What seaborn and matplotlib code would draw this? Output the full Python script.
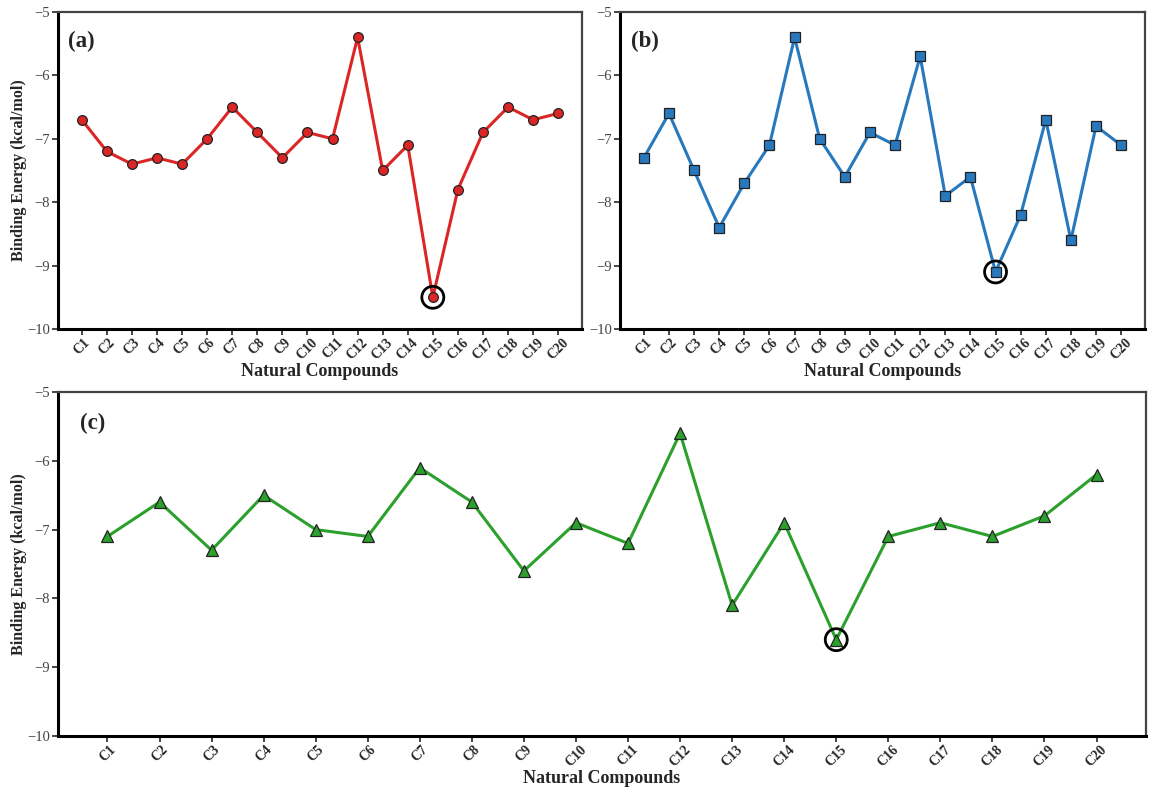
import matplotlib
matplotlib.use("Agg")
import matplotlib.pyplot as plt
import seaborn as sns
import pandas as pd
import numpy as np

compounds = [f"C{i}" for i in range(1, 21)]
energy_a = [-6.7, -7.2, -7.4, -7.3, -7.4, -7.0, -6.5, -6.9, -7.3, -6.9,
            -7.0, -5.4, -7.5, -7.1, -9.5, -7.8, -6.9, -6.5, -6.7, -6.6]
energy_b = [-7.3, -6.6, -7.5, -8.4, -7.7, -7.1, -5.4, -7.0, -7.6, -6.9,
            -7.1, -5.7, -7.9, -7.6, -9.1, -8.2, -6.7, -8.6, -6.8, -7.1]
energy_c = [-7.1, -6.6, -7.3, -6.5, -7.0, -7.1, -6.1, -6.6, -7.6, -6.9,
            -7.2, -5.6, -8.1, -6.9, -8.6, -7.1, -6.9, -7.1, -6.8, -6.2]
highlight = "C15"
yticks = [-10, -9, -8, -7, -6, -5]

sns.set_theme(style="white")
plt.rcParams["font.family"] = ["Liberation Serif", "DejaVu Serif"]

fig = plt.figure(figsize=(11.56, 7.98), dpi=100)
W, H = 1156, 798
def box(l, t, r, b):
    return [l / W, 1 - b / H, (r - l) / W, (b - t) / H]

ax_a = fig.add_axes(box(58, 12, 582, 329))
ax_b = fig.add_axes(box(620, 12, 1145, 329))
ax_c = fig.add_axes(box(58, 392, 1146, 736))

panels = [
    (ax_a, energy_a, "#dc2626", "o", 7, "(a)", True),
    (ax_b, energy_b, "#2878bd", "s", 7, "(b)", False),
    (ax_c, energy_c, "#2ca02c", "^", 8, "(c)", True),
]

for ax, vals, color, marker, ms, label, ylab in panels:
    df = pd.DataFrame({"Compound": compounds, "Energy": vals})
    sns.lineplot(data=df, x="Compound", y="Energy", ax=ax, color=color,
                 linewidth=2.2, marker=marker, markersize=ms,
                 markerfacecolor=color, markeredgecolor="#222222",
                 markeredgewidth=0.9, sort=False)
    hv = df.loc[df["Compound"] == highlight, "Energy"].values[0]
    ax.scatter([highlight], [hv], s=250, facecolors="none",
               edgecolors="black", linewidths=2.0, zorder=5)
    ax.set_ylim(-10, -5)
    ax.set_xlim(-0.95, 19.95)
    ax.set_yticks(yticks)
    ax.set_yticklabels([f"\u2212{abs(v)}" for v in yticks], fontsize=10.5, color="#444444")
    ax.tick_params(axis="y", left=True, length=4, width=1.2, pad=2)
    ax.tick_params(axis="x", bottom=True, length=4, width=1.2, pad=1)
    for t in ax.get_xticklabels():
        t.set_rotation(45)
        t.set_fontweight("bold")
        t.set_fontsize(10)
        t.set_ha("center")
    ax.set_xlabel("Natural Compounds", fontsize=13, fontweight="bold", labelpad=1)
    if ylab:
        ax.set_ylabel("Binding Energy (kcal/mol)", fontsize=11.5, fontweight="bold", labelpad=0)
    else:
        ax.set_ylabel("")
    for s in ["left", "bottom"]:
        ax.spines[s].set_color("black")
        ax.spines[s].set_linewidth(2.2)
    for s in ["top", "right"]:
        ax.spines[s].set_color("#444444")
        ax.spines[s].set_linewidth(1.6)
    ax.text(0.02, 0.94, label, transform=ax.transAxes,
            fontsize=16.5, fontweight="bold", va="top", ha="left")

fig.savefig("out.png", dpi=100)
